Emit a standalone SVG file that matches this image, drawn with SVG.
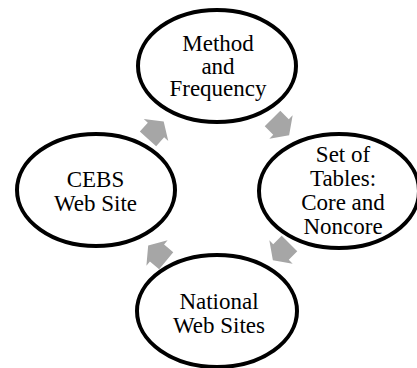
<svg xmlns="http://www.w3.org/2000/svg" width="417" height="368" viewBox="0 0 417 368">
  <defs>
    <style>
      .node ellipse { fill: #ffffff; stroke: #000000; stroke-width: 4; }
      .node text { font-size: 23px; fill: #000000; text-anchor: middle; }
      .arrow { fill: #a6a6a6; stroke: none; }
    </style>
    <polygon id="arr" points="-12,-11 0,-11 0,-16.5 11.5,0 0,16.5 0,11 -12,11"/>
  </defs>
  <rect width="417" height="368" fill="#ffffff"/>
  <g id="connectors">
    <use href="#arr" class="arrow" transform="translate(156,130) rotate(-48)"/>
    <use href="#arr" class="arrow" transform="translate(281,127) rotate(45)"/>
    <use href="#arr" class="arrow" transform="translate(281,252) rotate(135)"/>
    <use href="#arr" class="arrow" transform="translate(157,253) rotate(-140)"/>
  </g>
  <g id="method" class="node" font-family="Liberation Serif, serif">
    <ellipse cx="217" cy="66" rx="79" ry="56"/>
    <text x="218" y="51">Method</text>
    <text x="218" y="73.5">and</text>
    <text x="218" y="96">Frequency</text>
  </g>
  <g id="tables" class="node" font-family="Liberation Serif, serif">
    <ellipse cx="339" cy="191" rx="80" ry="57"/>
    <text x="343" y="161.5">Set of</text>
    <text x="343" y="185.5">Tables:</text>
    <text x="343" y="209.5">Core and</text>
    <text x="343" y="233.5">Noncore</text>
  </g>
  <g id="national" class="node" font-family="Liberation Serif, serif">
    <ellipse cx="217" cy="311" rx="80" ry="56"/>
    <text x="219" y="309">National</text>
    <text x="219" y="333">Web Sites</text>
  </g>
  <g id="cebs" class="node" font-family="Liberation Serif, serif">
    <ellipse cx="96" cy="190" rx="79" ry="56"/>
    <text x="95.5" y="187">CEBS</text>
    <text x="95.5" y="210.5">Web Site</text>
  </g>
</svg>
